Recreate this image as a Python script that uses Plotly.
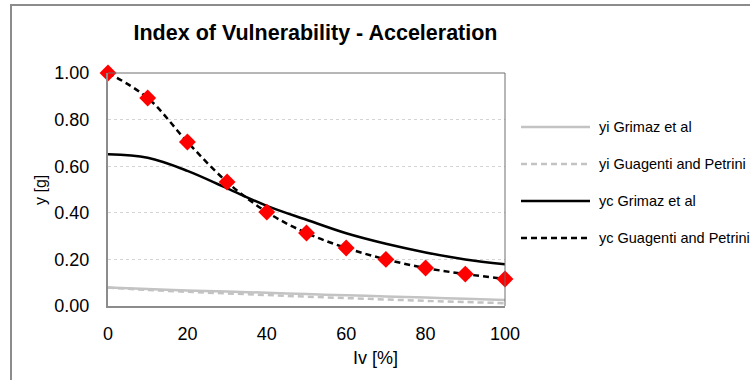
import plotly.graph_objects as go

iv = [0, 10, 20, 30, 40, 50, 60, 70, 80, 90, 100]
yi_grimaz = [0.079, 0.073, 0.067, 0.062, 0.057, 0.051, 0.046, 0.041, 0.036, 0.031, 0.026]
yi_guagenti = [0.079, 0.069, 0.061, 0.054, 0.047, 0.040, 0.034, 0.028, 0.022, 0.017, 0.012]
yc_grimaz = [0.651, 0.636, 0.580, 0.505, 0.430, 0.370, 0.312, 0.267, 0.230, 0.200, 0.179]
yc_guagenti = [1.000, 0.893, 0.704, 0.532, 0.403, 0.313, 0.249, 0.200, 0.163, 0.137, 0.116]

series_names = ["yi Grimaz et al", "yi Guagenti and Petrini", "yc Grimaz et al", "yc Guagenti and Petrini"]
x_ticks = [0, 20, 40, 60, 80, 100]
y_ticks = [0.0, 0.2, 0.4, 0.6, 0.8, 1.0]

FONT = "Liberation Sans, Arial, sans-serif"
GRAY = "#c3c3c3"
DASH = "6px,4px"

fig = go.Figure()
fig.add_trace(go.Scatter(x=iv, y=yi_grimaz, mode="lines", line=dict(color=GRAY, width=2.5, shape="spline"),
                         name=series_names[0], showlegend=False))
fig.add_trace(go.Scatter(x=iv, y=yi_guagenti, mode="lines", line=dict(color=GRAY, width=2.5, dash=DASH, shape="spline"),
                         name=series_names[1], showlegend=False))
fig.add_trace(go.Scatter(x=iv, y=yc_grimaz, mode="lines", line=dict(color="black", width=2.5, shape="spline"),
                         name=series_names[2], showlegend=False))
fig.add_trace(go.Scatter(x=iv, y=yc_guagenti, mode="lines+markers", cliponaxis=False,
                         line=dict(color="black", width=2.5, dash=DASH, shape="spline"),
                         marker=dict(symbol="diamond", size=13, color="#ff0000", line=dict(width=0)),
                         name=series_names[3], showlegend=False))

# plot area pixel geometry
L, R, T, B = 108, 505, 73, 306
W, H = 750, 380
pw, ph = R - L, B - T

def px_x(p):
    return (p - L) / pw

def px_y(p):
    return (B - p) / ph

shapes = []
# outer chart border (extends beyond the visible window)
shapes.append(dict(type="rect", xref="paper", yref="paper",
                   x0=px_x(11), x1=px_x(900), y0=px_y(520), y1=px_y(5),
                   line=dict(color="#8c8c8c", width=2), fillcolor="rgba(0,0,0,0)", layer="below"))
# top and right frame of plot area
shapes.append(dict(type="line", xref="paper", yref="paper", x0=0, x1=1, y0=1, y1=1,
                   line=dict(color="#6e6e6e", width=1)))
shapes.append(dict(type="line", xref="paper", yref="paper", x0=1, x1=1, y0=0, y1=1,
                   line=dict(color="#6e6e6e", width=1)))

# manual legend
legend_y = [127, 164, 201, 238]
legend_styles = [(GRAY, "solid"), (GRAY, DASH), ("black", "solid"), ("black", DASH)]
annotations = []
for name, yy, (col, dsh) in zip(series_names, legend_y, legend_styles):
    shapes.append(dict(type="line", xref="paper", yref="paper",
                       x0=px_x(521), x1=px_x(590), y0=px_y(yy), y1=px_y(yy),
                       line=dict(color=col, width=2.5, dash=dsh)))
    annotations.append(dict(text=name, xref="paper", yref="paper", x=px_x(597), y=px_y(yy),
                            xanchor="left", yanchor="middle", showarrow=False,
                            font=dict(family=FONT, size=14.5, color="black")))

# axis titles
annotations.append(dict(text="Iv [%]", xref="paper", yref="paper", x=px_x(375), y=px_y(358),
                        xanchor="center", yanchor="middle", showarrow=False,
                        font=dict(family=FONT, size=18, color="black")))
annotations.append(dict(text="y [g]", xref="paper", yref="paper", x=px_x(40), y=px_y(190),
                        xanchor="center", yanchor="middle", showarrow=False, textangle=-90,
                        font=dict(family=FONT, size=16, color="black")))

fig.update_layout(
    width=W, height=H,
    margin=dict(l=L, r=W - R, t=T, b=H - B, autoexpand=False),
    paper_bgcolor="white", plot_bgcolor="white",
    font=dict(family=FONT, color="black"),
    title=dict(text="<b>Index of Vulnerability - Acceleration</b>", x=315.5 / W, xanchor="center",
               y=1 - 32 / H, yanchor="middle", xref="container", yref="container",
               font=dict(family=FONT, size=21.5, color="black")),
    shapes=shapes,
    annotations=annotations,
    showlegend=False,
)
fig.update_xaxes(range=[0, 100], tickvals=x_ticks, ticktext=[str(v) for v in x_ticks],
                 showgrid=False, zeroline=False, showline=True, linecolor="#8c8c8c", linewidth=2,
                 ticks="", ticklabelstandoff=10, tickfont=dict(family=FONT, size=18))
fig.update_yaxes(range=[0, 1], tickvals=y_ticks, ticktext=[f"{v:.2f}" for v in y_ticks],
                 showgrid=True, gridcolor="#d4d4d4", griddash="dot", gridwidth=1,
                 zeroline=False, showline=True, linecolor="#8c8c8c", linewidth=2,
                 ticks="", ticklabelstandoff=13, tickfont=dict(family=FONT, size=18))

fig.write_html("out.html", config={"displayModeBar": False},
               post_script="document.body.style.margin='0';")
